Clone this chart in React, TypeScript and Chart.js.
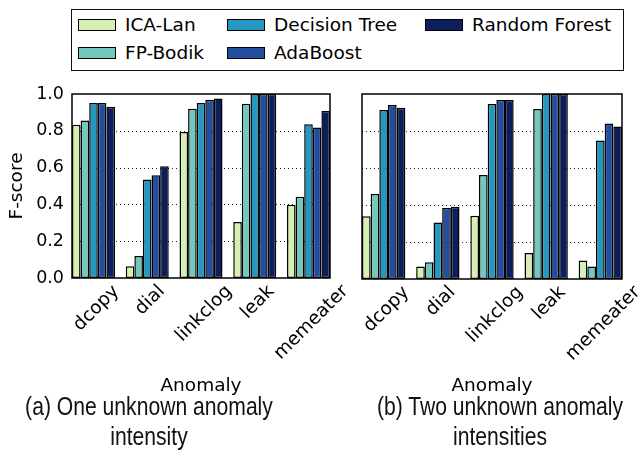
import React, { useEffect, useRef } from 'react';
import { Chart, registerables } from 'chart.js';
Chart.register(...registerables);

const categories = ['dcopy', 'dial', 'linkclog', 'leak', 'memeater'];
const seriesNames = ['ICA-Lan', 'FP-Bodik', 'Decision Tree', 'AdaBoost', 'Random Forest'];
const seriesColors = ['#d6efb3', '#73c8bd', '#2498c1', '#234ea0', '#0c1f5c'];

// (a) One unknown anomaly intensity
const icaLanA = [0.833, 0.064, 0.793, 0.305, 0.398];
const fpBodikA = [0.856, 0.12, 0.92, 0.947, 0.442];
const decisionTreeA = [0.951, 0.536, 0.951, 1.0, 0.835];
const adaBoostA = [0.951, 0.558, 0.969, 1.0, 0.818];
const randomForestA = [0.931, 0.607, 0.975, 1.0, 0.907];

// (b) Two unknown anomaly intensities
const icaLanB = [0.339, 0.067, 0.342, 0.14, 0.1];
const fpBodikB = [0.459, 0.09, 0.562, 0.919, 0.067];
const decisionTreeB = [0.914, 0.306, 0.946, 1.0, 0.748];
const adaBoostB = [0.941, 0.384, 0.968, 1.0, 0.841];
const randomForestB = [0.926, 0.391, 0.968, 1.0, 0.825];

const yMin = 0;
const yMax = 1.0;
const yStep = 0.2;
const yTitle = 'F-score';
const xTitle = 'Anomaly';
const captionA = ['(a) One unknown anomaly', 'intensity'];
const captionB = ['(b) Two unknown anomaly', 'intensities'];

const W = 642;
const H = 463;
const FONT = "'DejaVu Sans', sans-serif";

const frameLabelsPlugin = {
  id: 'frameLabels',
  beforeDatasetsDraw(chart: any) {
    const { ctx, chartArea } = chart;
    const ys = chart.scales.y;
    ctx.save();
    ctx.strokeStyle = '#222';
    ctx.lineWidth = 1;
    ctx.setLineDash([1, 3]);
    ys.ticks.forEach((t: any) => {
      const y = Math.round(ys.getPixelForValue(t.value)) + 0.5;
      if (y <= chartArea.top + 1 || y >= chartArea.bottom - 1) return;
      ctx.beginPath();
      ctx.moveTo(chartArea.left, y);
      ctx.lineTo(chartArea.right, y);
      ctx.stroke();
    });
    ctx.restore();
  },
  afterDatasetsDraw(chart: any) {
    const { ctx, chartArea } = chart;
    ctx.save();
    ctx.strokeStyle = '#000';
    ctx.lineWidth = 1.5;
    ctx.strokeRect(chartArea.left, chartArea.top, chartArea.right - chartArea.left, chartArea.bottom - chartArea.top);
    ctx.restore();
  },
  afterDraw(chart: any, _args: any, opts: any) {
    const { ctx, chartArea } = chart;
    const xs = chart.scales.x;
    const labels: string[] = opts.labels || [];
    const size = opts.size || 17;
    ctx.save();
    ctx.font = `${size}px ${FONT}`;
    ctx.fillStyle = '#000';
    ctx.textAlign = 'right';
    ctx.textBaseline = 'top';
    const h = size * 1.16;
    labels.forEach((lab, i) => {
      const tick = xs.getPixelForValue(i) + (opts.shift || 0);
      const w = ctx.measureText(lab).width;
      const ax = tick + 0.3535 * (w - h);
      const ay = chartArea.bottom + (opts.pad || 5);
      ctx.save();
      ctx.translate(ax, ay);
      ctx.rotate(-Math.PI / 4);
      ctx.fillText(lab, 0, 0);
      ctx.restore();
    });
    ctx.restore();
  },
};

function makeConfig(series: number[][], area: { left: number; right: number; top: number; bottom: number }, showY: boolean) {
  return {
    type: 'bar' as const,
    data: {
      datasets: series.map((vals, s) => ({
        label: seriesNames[s],
        data: vals.map((v, i) => ({ x: i, y: v })),
        backgroundColor: seriesColors[s],
        borderColor: '#000',
        borderWidth: 1.5,
        borderSkipped: false,
        categoryPercentage: 0.8,
        barPercentage: 1.0,
      })),
    },
    plugins: [frameLabelsPlugin],
    options: {
      responsive: false,
      animation: false,
      devicePixelRatio: 1,
      layout: { padding: { left: 0, right: W - area.right, top: area.top, bottom: 0 } },
      plugins: {
        legend: { display: false },
        tooltip: { enabled: false },
        frameLabels: { labels: categories, size: 18.5, shift: 4, pad: 4 },
      },
      scales: {
        x: {
          type: 'linear',
          min: -0.4,
          max: categories.length - 0.6,
          offset: false,
          grid: { display: false, drawTicks: false },
          border: { display: false },
          ticks: { display: false, stepSize: 1, includeBounds: false },
          title: {
            display: true,
            text: xTitle,
            color: '#000',
            font: { family: FONT, size: 18.5 },
            padding: { top: 0, bottom: 66 },
          },
          afterFit: (scale: any) => {
            scale.height = H - area.bottom;
          },
        },
        y: {
          min: yMin,
          max: yMax,
          grid: { display: false, drawTicks: false },
          border: { display: false },
          ticks: {
            display: showY,
            stepSize: yStep,
            padding: 8,
            color: '#000',
            font: { family: FONT, size: 17.5 },
            callback: (v: number) => Number(v).toFixed(1),
          },
          title: {
            display: showY,
            text: yTitle,
            color: '#000',
            font: { family: FONT, size: 18.5 },
            padding: { top: 6, bottom: 0 },
          },
          afterFit: (scale: any) => {
            scale.width = area.left;
          },
        },
      },
    },
  };
}

function ChartCanvas({ series, area, showY }: { series: number[][]; area: any; showY: boolean }) {
  const ref = useRef<HTMLCanvasElement>(null);
  useEffect(() => {
    if (!ref.current) return;
    const chart = new Chart(ref.current, makeConfig(series, area, showY) as any);
    return () => chart.destroy();
  }, []);
  return <canvas ref={ref} width={W} height={H} style={{ position: 'absolute', left: 0, top: 0, width: W, height: H }} />;
}

export default function App() {
  const legendCols = [78, 227, 425];
  const legendRows = [25, 53];
  return (
    <div style={{ position: 'absolute', left: 0, top: 0, width: W, height: H, background: '#fff', overflow: 'hidden' }}>
      <ChartCanvas
        series={[icaLanA, fpBodikA, decisionTreeA, adaBoostA, randomForestA]}
        area={{ left: 72, right: 330, top: 94, bottom: 278 }}
        showY={true}
      />
      <ChartCanvas
        series={[icaLanB, fpBodikB, decisionTreeB, adaBoostB, randomForestB]}
        area={{ left: 362, right: 622, top: 94, bottom: 279 }}
        showY={false}
      />
      <div
        style={{
          position: 'absolute',
          left: 71,
          top: 9,
          width: 553,
          height: 62,
          border: '1.5px solid #111',
          boxSizing: 'border-box',
          background: '#fff',
        }}
      />
      {seriesNames.map((name, i) => {
        const col = Math.floor(i / 2);
        const row = i % 2;
        const x = legendCols[col];
        const y = legendRows[row];
        return (
          <React.Fragment key={name}>
            <div
              style={{
                position: 'absolute',
                left: x,
                top: y - 6,
                width: 38,
                height: 12,
                background: seriesColors[i],
                border: '1.5px solid #000',
                boxSizing: 'border-box',
              }}
            />
            <div
              style={{
                position: 'absolute',
                left: x + 47,
                top: y - 12,
                height: 24,
                lineHeight: '24px',
                fontFamily: FONT,
                fontSize: 18.5,
                color: '#000',
                whiteSpace: 'nowrap',
              }}
            >
              {name}
            </div>
          </React.Fragment>
        );
      })}
      {[
        { lines: captionA, cx: 149 },
        { lines: captionB, cx: 500 },
      ].map((c, k) => (
        <div
          key={k}
          style={{
            position: 'absolute',
            left: c.cx - 180,
            top: 391,
            width: 360,
            textAlign: 'center',
            fontFamily: "'Liberation Sans', sans-serif",
            fontSize: 25,
            lineHeight: '30px',
            color: '#111',
            transform: 'scaleX(0.845)',
            transformOrigin: '50% 50%',
          }}
        >
          {c.lines.map((l) => (
            <div key={l}>{l}</div>
          ))}
        </div>
      ))}
    </div>
  );
}
